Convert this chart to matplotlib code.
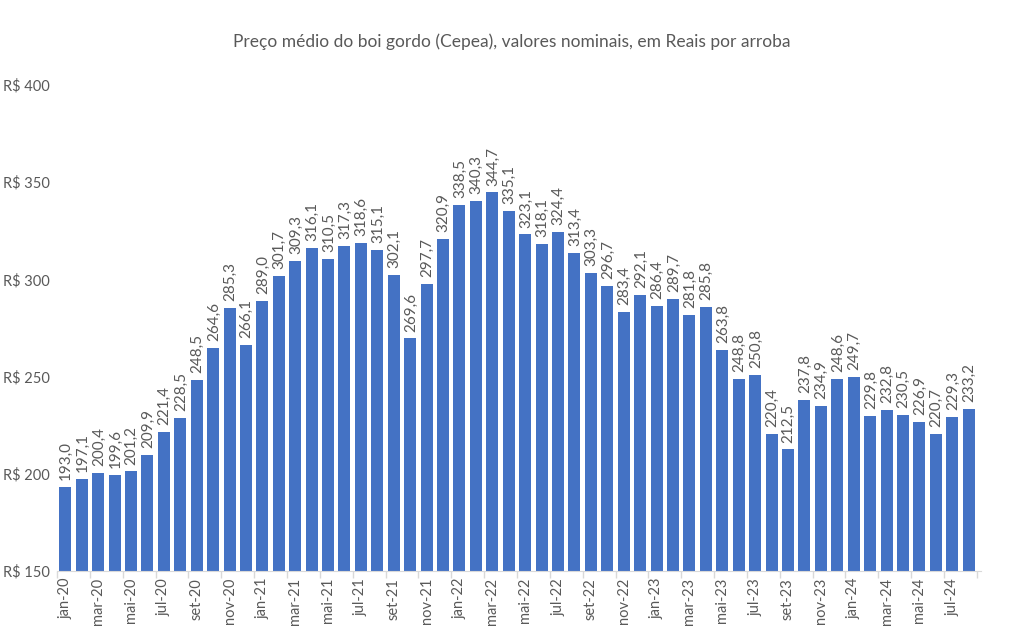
import matplotlib
matplotlib.use("Agg")
import matplotlib.pyplot as plt
from matplotlib.ticker import FixedLocator

months = ["jan", "fev", "mar", "abr", "mai", "jun", "jul", "ago", "set", "out", "nov", "dez"]
categories = [f"{m}-{y}" for y in ["20", "21", "22", "23", "24"] for m in months][:56]

values = [193.0, 197.1, 200.4, 199.6, 201.2, 209.9, 221.4, 228.5, 248.5, 264.6, 285.3, 266.1,
          289.0, 301.7, 309.3, 316.1, 310.5, 317.3, 318.6, 315.1, 302.1, 269.6, 297.7, 320.9,
          338.5, 340.3, 344.7, 335.1, 323.1, 318.1, 324.4, 313.4, 303.3, 296.7, 283.4, 292.1,
          286.4, 289.7, 281.8, 285.8, 263.8, 248.8, 250.8, 220.4, 212.5, 237.8, 234.9, 248.6,
          249.7, 229.8, 232.8, 230.5, 226.9, 220.7, 229.3, 233.2]

y_ticks = [150, 200, 250, 300, 350, 400]
y_tick_labels = ["R$ 150", "R$ 200", "R$ 250", "R$ 300", "R$ 350", "R$ 400"]

title = "Preço médio do boi gordo (Cepea), valores nominais, em Reais por arroba"

plt.rcParams['font.family'] = ['Lato', 'DejaVu Sans']
text_color = "#595959"
bar_color = "#4472C4"

fig = plt.figure(figsize=(10.24, 6.37), dpi=100)
ax = fig.add_axes([0.0557, 0.1036, 0.9023, 0.763])

x = list(range(len(values)))
ax.bar(x, [v - 150 for v in values], bottom=150, width=0.73, color=bar_color)

for xi, v in zip(x, values):
    ax.annotate(f"{v:.1f}".replace(".", ","), xy=(xi, v), xytext=(0.5, 5),
                textcoords="offset points", rotation=90, ha="center", va="bottom",
                fontsize=11, color=text_color)

ax.set_xlim(-0.5, len(values) - 0.5 + 0.25)
ax.set_ylim(150, 400)

ax.set_yticks(y_ticks)
ax.set_yticklabels(y_tick_labels, fontsize=10.5, color=text_color)
ax.tick_params(axis="y", length=0, pad=39)
for lbl in ax.get_yticklabels():
    lbl.set_horizontalalignment("left")

ax.set_xticks(x[::2])
ax.set_xticklabels(categories[::2], rotation=90, fontsize=10.5, color=text_color)
ax.tick_params(axis="x", length=0, pad=5)
ax.xaxis.set_minor_locator(FixedLocator([i - 0.5 for i in range(0, len(values) + 1, 2)]))
ax.tick_params(axis="x", which="minor", length=5, color="#D9D9D9", width=1)

for side in ["top", "right", "left"]:
    ax.spines[side].set_visible(False)
ax.spines["bottom"].set_color("#D9D9D9")

fig.text(0.5, 0.935, title, ha="center", va="center", fontsize=12.5, color=text_color)

fig.savefig("out.png", dpi=100, facecolor="white")
